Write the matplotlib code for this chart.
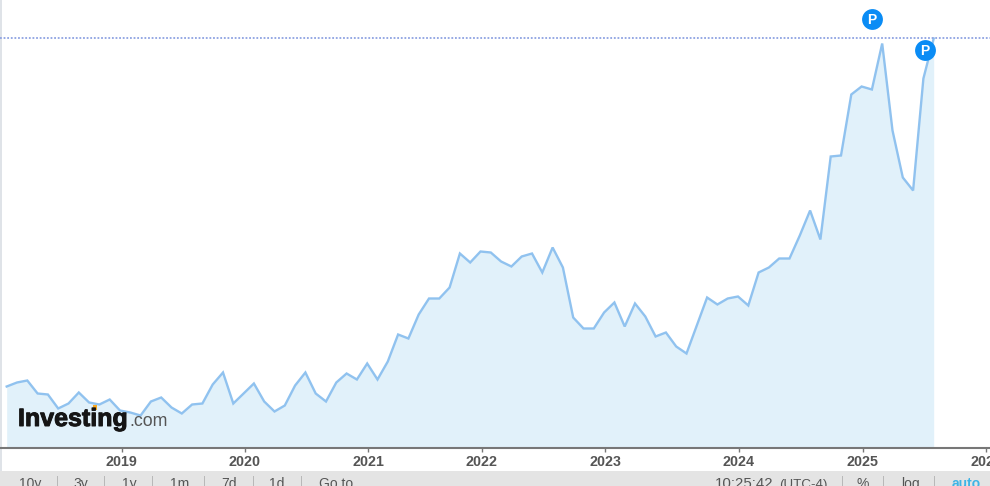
import matplotlib
matplotlib.use("Agg")
import matplotlib.pyplot as plt
import matplotlib.patheffects as pe
from matplotlib.patches import Rectangle

plt.rcParams['font.family'] = ['Liberation Sans', 'DejaVu Sans']

W, H = 990, 486
AXIS_Y = 447

# height of the line above the x axis (no y scale is shown)
levels = [
    61, 65, 67, 54, 53, 39, 44, 55, 45, 43, 48,              # 2018
    37, 35, 32, 46, 50, 40, 34, 43, 44, 63, 75, 44,          # 2019
    54, 64, 46, 36, 42, 62, 75, 54, 46, 65, 74, 68,          # 2020
    84, 68, 86, 113, 109, 133, 149, 149, 160, 194, 185,      # 2021
    196, 195, 186, 181, 191, 194, 175, 200, 180, 130, 119, 119,  # 2022
    135, 145, 121, 144, 131, 111, 115, 101, 94, 122, 150, 143, 149,  # 2023
    151, 142, 175, 180, 189, 189, 212, 237, 208, 291, 292, 353,      # 2024
    361, 358, 404, 317, 270, 257, 369, 409,                  # 2025
]
months = list(range(len(levels)))

year_ticks = [11.15, 23.1, 35.1, 46.1, 58.1, 71.05, 83.1, 95.1]
year_labels = ['2019', '2020', '2021', '2022', '2023', '2024', '2025', '2026']

pin_months = [84, 89.15]
pin_levels = [429, 398]
top_level = 409.5

range_buttons = ['10y', '3y', '1y', '1m', '7d', '1d', 'Go to']
button_x = [30, 81, 129, 180, 229, 277, 336]
button_sep = [57, 104, 152, 204, 253, 301]

fig = plt.figure(figsize=(W / 100, H / 100), dpi=100)
ax = fig.add_axes([0, (H - AXIS_Y - 0.5) / H, 1, (AXIS_Y + 0.5) / H])

# 10.3 px per point, first point at x = 6.7 px
ax.set_xlim(-6.7 / 10.3, (W - 6.7) / 10.3)
ax.set_ylim(0, AXIS_Y + 0.5)

ax.fill_between(months, levels, 0, color='#e1f1fa', lw=0)
ax.plot(months, levels, color='#90c2ef', lw=1.7, solid_joinstyle='miter')
ax.axhline(top_level, color='#8ea2e2', lw=1.3, ls=(0, (1, 1)), zorder=4)

ax.scatter(pin_months, pin_levels, s=225, color='#0a8cf5', zorder=5, lw=0)
for m, l in zip(pin_months, pin_levels):
    ax.text(m, l, 'P', color='white', fontsize=10, fontweight='bold',
            ha='center', va='center_baseline', zorder=6)

for side in ['top', 'right', 'left']:
    ax.spines[side].set_visible(False)
ax.spines['bottom'].set_color('#777777')
ax.spines['bottom'].set_linewidth(1.5)
ax.set_yticks([])
ax.set_xticks(year_ticks, year_labels, fontsize=10.3, fontweight='bold', color='#555555')
ax.tick_params(axis='x', length=3, width=1, color='#777777', pad=2.3)
ax.patch.set_visible(False)


def px(x, y):
    return x / W, 1 - y / H


# left page edge, under the chart
fig.add_artist(Rectangle(px(0, 471), 1.5 / W, 471 / H, color='#dfe3e8', lw=0, zorder=-1))

# logo
fig.text(*px(18, 426), 'Investing', fontsize=18, fontweight='bold', color='#151515',
         path_effects=[pe.withStroke(linewidth=0.7, foreground='#151515')])
fig.text(*px(129, 426), '.com', fontsize=12.8, color='#555555')
fig.add_artist(Rectangle(px(92.5, 410), 4.5 / W, 5 / H, color='#f7a823', lw=0))

# toolbar along the bottom
fig.add_artist(Rectangle((0, 0), 1, (H - 471) / H, color='#e4e4e4', lw=0))
for label, x in zip(range_buttons, button_x):
    fig.text(*px(x, 488), label, fontsize=10, color='#555555', ha='center')
for x in button_sep + [842, 883, 934]:
    fig.add_artist(Rectangle(px(x, 486), 1 / W, 10 / H, color='#b8b8b8', lw=0))
fig.text(*px(774, 488), '10:25:42', fontsize=10.8, color='#555555', ha='right')
fig.text(*px(779, 488), '(UTC-4)', fontsize=9.6, color='#555555')
fig.text(*px(863, 488), '%', fontsize=10, color='#555555', ha='center')
fig.text(*px(910, 488), 'log', fontsize=10, color='#555555', ha='center')
fig.text(*px(966, 488), 'auto', fontsize=10, color='#3fb4e6', ha='center', fontweight='bold')

fig.savefig('out.png', dpi=100)
